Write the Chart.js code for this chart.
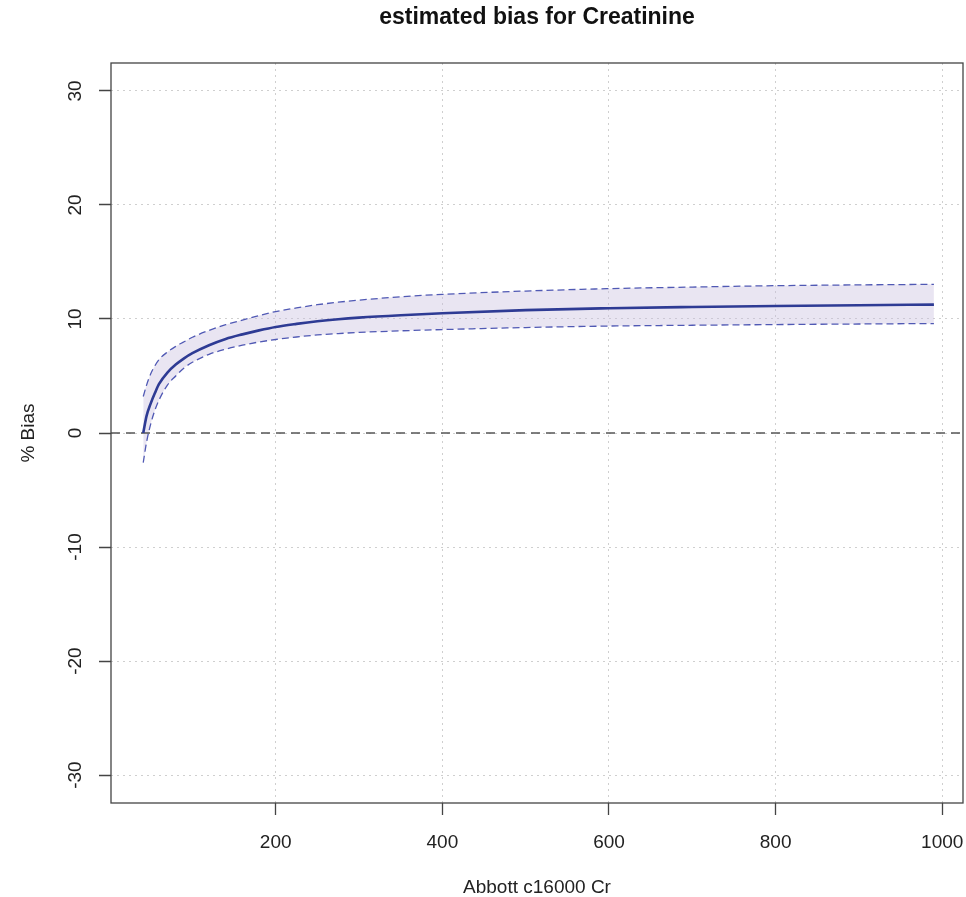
<!DOCTYPE html>
<html lang="en">
<head>
    <meta charset="UTF-8">
    <title>estimated bias for Creatinine</title>
    <script src="https://cdn.jsdelivr.net/npm/chart.js"></script>
    <style>
        html, body { margin: 0; padding: 0; background: #fff; overflow: hidden; }
        #wrap { width: 966px; height: 897px; position: relative; }
        canvas { display: block; }
    </style>
</head>
<body>
    <div id="wrap"><canvas id="biasChart"></canvas></div>

    <script>
        // values
        const concentration = [41, 45, 50, 55, 60, 70, 80, 90, 100, 120, 140, 160, 180, 200, 225, 250, 275, 300, 350, 400, 500, 600, 700, 800, 900, 990];
        const biasEstimate  = [0.0, 1.5, 2.6, 3.5, 4.3, 5.3, 6.0, 6.55, 7.0, 7.7, 8.25, 8.65, 9.0, 9.3, 9.57, 9.8, 9.98, 10.12, 10.33, 10.5, 10.78, 10.94, 11.05, 11.14, 11.21, 11.26];
        const upperBound    = [3.2, 4.2, 5.2, 5.9, 6.45, 7.1, 7.6, 8.0, 8.4, 9.0, 9.5, 9.9, 10.3, 10.65, 10.97, 11.25, 11.47, 11.65, 11.95, 12.16, 12.45, 12.66, 12.8, 12.92, 12.99, 13.04];
        const lowerBound    = [-2.6, -0.8, 0.8, 2.0, 2.9, 4.2, 5.0, 5.7, 6.2, 6.9, 7.35, 7.7, 7.98, 8.2, 8.42, 8.6, 8.72, 8.82, 8.96, 9.07, 9.25, 9.38, 9.45, 9.51, 9.56, 9.6];
        const xTicks = [200, 400, 600, 800, 1000];
        const yTicks = [-30, -20, -10, 0, 10, 20, 30];
        const xRange = [2.3, 1024.9];
        const yRange = [-32.45, 32.45];

        const titleText = "estimated bias for Creatinine";
        const xTitle = "Abbott c16000 Cr";
        const yTitle = "% Bias";

        const toPoints = ys => concentration.map((x, i) => ({ x: x, y: ys[i] }));
        const FONT = "'Liberation Sans', Arial, Helvetica, sans-serif";

        // box, title, axis titles and the rotated y labels (R style)
        const rDecor = {
            id: "rDecor",
            afterDraw(chart) {
                const ctx = chart.ctx;
                const a = chart.chartArea;
                const yScale = chart.scales.y;
                ctx.save();
                ctx.strokeStyle = "#444";
                ctx.lineWidth = 1.3;
                ctx.setLineDash([]);
                ctx.strokeRect(a.left, a.top, a.right - a.left, a.bottom - a.top);

                ctx.fillStyle = "#111";
                ctx.textAlign = "center";
                ctx.textBaseline = "middle";
                ctx.font = "bold 23px " + FONT;
                ctx.fillText(titleText, (a.left + a.right) / 2, 18);

                ctx.fillStyle = "#222";
                ctx.font = "19px " + FONT;
                ctx.fillText(xTitle, (a.left + a.right) / 2, 888);

                ctx.save();
                ctx.translate(29, (a.top + a.bottom) / 2);
                ctx.rotate(-Math.PI / 2);
                ctx.fillText(yTitle, 0, 0);
                ctx.restore();

                yTicks.forEach(v => {
                    ctx.save();
                    ctx.translate(76, yScale.getPixelForValue(v));
                    ctx.rotate(-Math.PI / 2);
                    ctx.fillText(String(v), 0, 0);
                    ctx.restore();
                });
                ctx.restore();
            }
        };

        const gridStyle = {
            color: "#cfcfcf",
            lineWidth: 1,
            drawTicks: true,
            tickLength: 12,
            tickColor: "#444",
            tickWidth: 1.3,
            tickBorderDash: [1, 0]
        };

        const ctx = document.getElementById("biasChart").getContext("2d");
        new Chart(ctx, {
            type: "line",
            data: {
                datasets: [
                    {
                        label: "estimate",
                        data: toPoints(biasEstimate),
                        borderColor: "#2e3b94",
                        borderWidth: 2.6,
                        pointRadius: 0,
                        cubicInterpolationMode: "monotone",
                        fill: false,
                        order: 0
                    },
                    {
                        label: "lower",
                        data: toPoints(lowerBound),
                        borderColor: "#5059b4",
                        borderWidth: 1.3,
                        borderDash: [7, 4],
                        pointRadius: 0,
                        cubicInterpolationMode: "monotone",
                        fill: false,
                        order: 2
                    },
                    {
                        label: "upper",
                        data: toPoints(upperBound),
                        borderColor: "#5059b4",
                        borderWidth: 1.3,
                        borderDash: [7, 4],
                        backgroundColor: "rgba(200, 190, 222, 0.4)",
                        pointRadius: 0,
                        cubicInterpolationMode: "monotone",
                        fill: "-1",
                        order: 3
                    },
                    {
                        label: "zero",
                        data: [{ x: xRange[0], y: 0 }, { x: xRange[1], y: 0 }],
                        borderColor: "#555",
                        borderWidth: 1.6,
                        borderDash: [9, 6],
                        pointRadius: 0,
                        fill: false,
                        order: 1
                    }
                ]
            },
            options: {
                responsive: true,
                maintainAspectRatio: false,
                animation: false,
                layout: { padding: { top: 63, left: 0, right: 3, bottom: 0 } },
                plugins: {
                    legend: { display: false },
                    title: { display: false },
                    tooltip: { enabled: false }
                },
                scales: {
                    x: {
                        type: "linear",
                        min: xRange[0],
                        max: xRange[1],
                        afterBuildTicks: s => { s.ticks = xTicks.map(v => ({ value: v })); },
                        afterFit: s => { s.height = 94; s.paddingLeft = 0; s.paddingRight = 0; },
                        border: { display: false, dash: [2, 4] },
                        grid: gridStyle,
                        ticks: {
                            maxRotation: 0,
                            padding: 16,
                            color: "#222",
                            font: { family: FONT, size: 19 },
                            callback: v => String(v)
                        }
                    },
                    y: {
                        type: "linear",
                        min: yRange[0],
                        max: yRange[1],
                        afterBuildTicks: s => { s.ticks = yTicks.map(v => ({ value: v })); },
                        afterFit: s => { s.width = 111; s.paddingTop = 0; s.paddingBottom = 0; },
                        border: { display: false, dash: [2, 4] },
                        grid: gridStyle,
                        ticks: { display: false }
                    }
                }
            },
            plugins: [rDecor]
        });
    </script>
</body>
</html>
